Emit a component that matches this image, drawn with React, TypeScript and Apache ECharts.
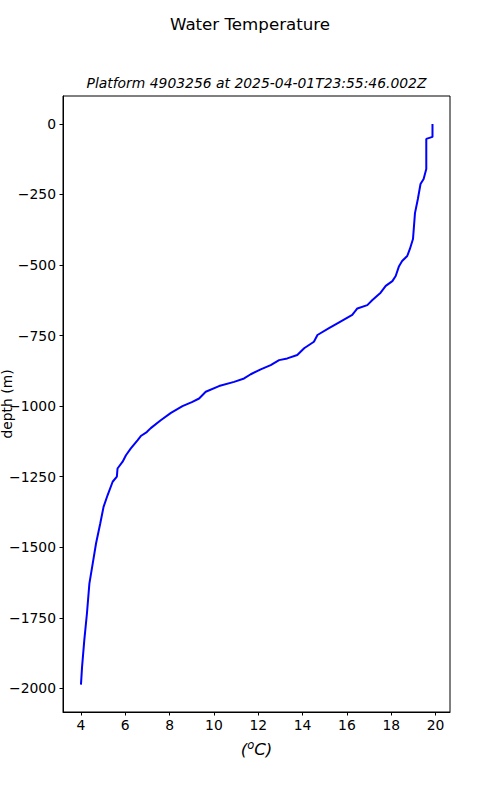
import React, { useEffect, useRef } from "react";
import * as echarts from "echarts";

const temps = [19.86, 19.86, 19.58, 19.58, 19.46, 19.32, 19.2, 19.07, 18.98, 18.84, 18.72, 18.49, 18.35, 18.2, 18.05, 17.75, 17.52, 17.15, 16.92, 16.47, 16.24, 15.57, 15.19, 14.67, 14.51, 14.07, 13.76, 13.31, 12.94, 12.56, 12.11, 11.66, 11.36, 10.91, 10.23, 9.63, 9.33, 9.03, 8.58, 8.06, 7.6, 7.15, 6.97, 6.7, 6.55, 6.25, 6.03, 5.88, 5.65, 5.62, 5.43, 5.2, 5.02, 4.87, 4.68, 4.53, 4.38, 4.27, 4.15, 4.05, 4.0];
const depths = [0, -46, -53, -160, -195, -213, -266, -316, -408, -443, -468, -486, -504, -539, -557, -574, -598, -624, -642, -654, -677, -707, -724, -748, -772, -795, -819, -831, -837, -855, -870, -887, -902, -914, -929, -949, -973, -985, -1000, -1024, -1050, -1078, -1092, -1106, -1121, -1150, -1174, -1197, -1221, -1250, -1268, -1316, -1357, -1416, -1487, -1558, -1629, -1735, -1830, -1924, -1987];

const xTicks = [4, 6, 8, 10, 12, 14, 16, 18, 20];
const yTicks = [0, -250, -500, -750, -1000, -1250, -1500, -1750, -2000];

const title = "Water Temperature";
const subtitle = "Platform 4903256 at 2025-04-01T23:55:46.002Z";

const FONT = "DejaVu Sans";

export default function App() {
  const ref = useRef<HTMLDivElement>(null);
  useEffect(() => {
    if (!ref.current) return;
    const chart = echarts.init(ref.current, undefined, { renderer: "svg" });
    const data = temps.map((t, i) => [t, depths[i]]);
    chart.setOption({
      animation: false,
      backgroundColor: "#ffffff",
      title: {
        text: title,
        left: "center",
        top: 11,
        textStyle: { fontFamily: FONT, fontSize: 16.67, fontWeight: "normal", color: "#000" },
      },
      graphic: [
        {
          type: "text",
          x: 256.5,
          y: 83,
          style: {
            text: subtitle,
            textAlign: "center",
            textVerticalAlign: "middle",
            fontFamily: FONT,
            fontSize: 13.9,
            fontStyle: "italic",
            fill: "#000",
          },
        },
      ],
      grid: {
        left: 63,
        right: 50,
        top: 96,
        bottom: 88,
        containLabel: false,
        outerBoundsMode: "none",
        show: true,
        borderColor: "#000",
        borderWidth: 1,
        backgroundColor: "transparent",
      },
      xAxis: {
        type: "value",
        min: 3.19,
        max: 20.65,
        name: "{a|(}{s|o}{a|C)}",
        nameLocation: "middle",
        nameGap: 27,
        nameMoveOverlap: false,
        nameTextStyle: {
          fontFamily: FONT,
          fontSize: 16.67,
          fontStyle: "italic",
          color: "#000",
          rich: {
            a: { fontFamily: FONT, fontSize: 16.67, fontStyle: "italic", color: "#000", lineHeight: 20 },
            s: { fontFamily: FONT, fontSize: 11.5, fontStyle: "italic", color: "#000", verticalAlign: "top", lineHeight: 20 },
          },
        },
        axisLine: { show: true, onZero: false, lineStyle: { color: "#000", width: 1 } },
        axisTick: { show: true, length: 3.5, lineStyle: { color: "#000" }, customValues: xTicks },
        axisLabel: {
          fontFamily: FONT,
          fontSize: 13.9,
          color: "#000",
          margin: 6,
          customValues: xTicks,
          formatter: (v: number) => String(v),
        },
        splitLine: { show: false },
      },
      yAxis: {
        type: "value",
        min: -2084,
        max: 99,
        name: "depth (m)",
        nameLocation: "middle",
        nameGap: 49,
        nameRotate: 90,
        nameMoveOverlap: false,
        nameTextStyle: { fontFamily: FONT, fontSize: 13.9, color: "#000" },
        axisLine: { show: true, onZero: false, lineStyle: { color: "#000", width: 1 } },
        axisTick: { show: true, length: 3.5, lineStyle: { color: "#000" }, customValues: yTicks },
        axisLabel: {
          fontFamily: FONT,
          fontSize: 13.9,
          color: "#000",
          margin: 7,
          customValues: yTicks,
          formatter: (v: number) => (v < 0 ? "\u2212" + String(-v) : String(v)),
        },
        splitLine: { show: false },
      },
      series: [
        {
          type: "line",
          data,
          showSymbol: false,
          symbol: "none",
          lineStyle: { color: "#0000ff", width: 2 },
          itemStyle: { color: "#0000ff" },
        },
      ],
    });
    return () => chart.dispose();
  }, []);
  return (
    <div
      ref={ref}
      style={{ position: "fixed", left: 0, top: 0, width: 500, height: 800 }}
    />
  );
}
